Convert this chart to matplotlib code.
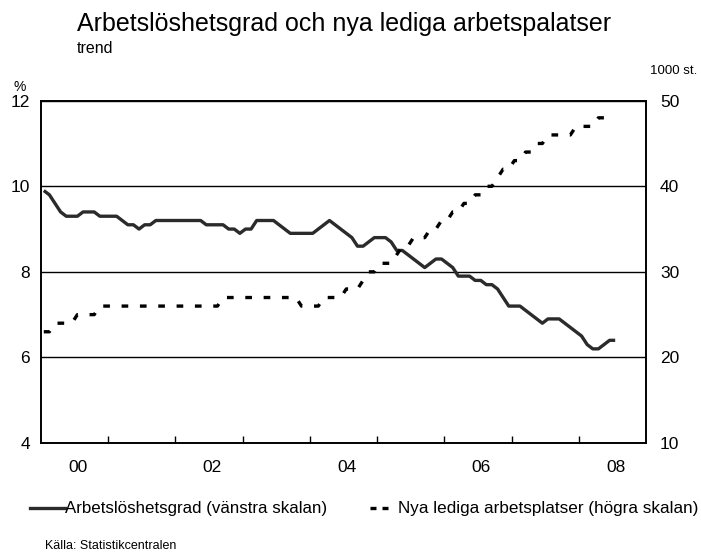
import numpy as np
import matplotlib
matplotlib.use('Agg')
import matplotlib.pyplot as plt
from matplotlib.lines import Line2D

plt.rcParams['font.family'] = ['Liberation Sans', 'DejaVu Sans']

# monthly trend series, Jan 2000 onwards
unemployment = [
    9.9, 9.8, 9.6, 9.4, 9.3, 9.3, 9.3, 9.4, 9.4, 9.4, 9.3, 9.3,   # 2000
    9.3, 9.3, 9.2, 9.1, 9.1, 9.0, 9.1, 9.1, 9.2, 9.2, 9.2, 9.2,   # 2001
    9.2, 9.2, 9.2, 9.2, 9.2, 9.1, 9.1, 9.1, 9.1, 9.0, 9.0, 8.9,   # 2002
    9.0, 9.0, 9.2, 9.2, 9.2, 9.2, 9.1, 9.0, 8.9, 8.9, 8.9, 8.9,   # 2003
    8.9, 9.0, 9.1, 9.2, 9.1, 9.0, 8.9, 8.8, 8.6, 8.6, 8.7, 8.8,   # 2004
    8.8, 8.8, 8.7, 8.5, 8.5, 8.4, 8.3, 8.2, 8.1, 8.2, 8.3, 8.3,   # 2005
    8.2, 8.1, 7.9, 7.9, 7.9, 7.8, 7.8, 7.7, 7.7, 7.6, 7.4, 7.2,   # 2006
    7.2, 7.2, 7.1, 7.0, 6.9, 6.8, 6.9, 6.9, 6.9, 6.8, 6.7, 6.6,   # 2007
    6.5, 6.3, 6.2, 6.2, 6.3, 6.4, 6.4,                            # 2008
]
vacancies = [
    23, 23, 24, 24, 24, 24, 25, 25, 25, 25, 26, 26,
    26, 26, 26, 26, 26, 26, 26, 26, 26, 26, 26, 26,
    26, 26, 26, 26, 26, 26, 26, 26, 27, 27, 27, 27,
    27, 27, 27, 27, 27, 27, 27, 27, 27, 27, 26, 26,
    26, 26, 27, 27, 27, 27, 28, 28, 28, 29, 30, 30,
    31, 31, 31, 32, 33, 33, 34, 34, 34, 35, 35, 36,
    36, 37, 37, 38, 38, 39, 39, 40, 40, 41, 42, 42,
    43, 43, 44, 44, 45, 45, 46, 46, 46, 46, 46, 47,
    47, 47, 47, 48, 48, 48, 48,
]
start_year = 2000
year_labels = ['00', '02', '04', '06', '08']
left_ticks = [4, 6, 8, 10, 12]
right_ticks = [10, 20, 30, 40, 50]

title = 'Arbetslöshetsgrad och nya lediga arbetspalatser'
subtitle = 'trend'
label_left = 'Arbetslöshetsgrad (vänstra skalan)'
label_right = 'Nya lediga arbetsplatser (högra skalan)'
source = 'Källa: Statistikcentralen'

W, H = 701, 553
months = np.arange(len(unemployment))
x = start_year + (months + 0.5) / 12

fig = plt.figure(figsize=(W / 100, H / 100), dpi=100)
ax = fig.add_axes([41 / W, 1 - 443 / H, (646 - 41) / W, (443 - 100.7) / H])
ax2 = ax.twinx()

ax.plot(x, unemployment, color='#2b2b2b', lw=2.4, solid_joinstyle='round',
        solid_capstyle='butt', zorder=3)
ax2.plot(x, vacancies, color='black', lw=2.4, dashes=(2.0, 3.5))

ax.set_xlim(start_year, start_year + 9)
ax.set_ylim(left_ticks[0], left_ticks[-1])
ax.set_yticks(left_ticks)
ax2.set_ylim(right_ticks[0], right_ticks[-1])
ax2.set_yticks(right_ticks)

ax.set_xticks(np.arange(start_year + 1, start_year + 9))
ax.set_xticklabels([])
ax.set_xticks([start_year + 0.55 + 2 * i for i in range(len(year_labels))], minor=True)
ax.set_xticklabels(year_labels, minor=True)
ax.tick_params(axis='x', which='major', direction='in', length=5, width=1, color='black')
ax.tick_params(axis='x', which='minor', length=0, pad=12, labelsize=12.5)
ax.tick_params(axis='y', length=0, pad=8, labelsize=12.5)
ax2.tick_params(axis='y', length=0, pad=10, labelsize=12.5)

ax.yaxis.grid(True, color='black', lw=1)
ax.set_axisbelow(True)
for a in (ax, ax2):
    for sp in a.spines.values():
        sp.set_linewidth(1.2)
        sp.set_color('black')

fig.text(77 / W, 1 - 31 / H, title, fontsize=18, va='baseline')
fig.text(77 / W, 1 - 53 / H, subtitle, fontsize=11.5, va='baseline')
fig.text(13 / W, 1 - 91 / H, '%', fontsize=10, va='baseline')
fig.text(650 / W, 1 - 74 / H, '1000 st.', fontsize=9.5, va='baseline')

# legend drawn by hand
ly = 1 - 508 / H
fig.add_artist(Line2D([30 / W, 65 / W], [ly, ly], color='#2b2b2b', lw=2.4,
                      transform=fig.transFigure))
fig.add_artist(Line2D([370 / W, 388 / W], [ly, ly], color='black', lw=2.4,
                      dashes=(1.8, 1.8), transform=fig.transFigure))
fig.text(65 / W, ly, label_left, fontsize=12.2, va='center')
fig.text(398 / W, ly, label_right, fontsize=12.3, va='center')
fig.text(45 / W, 1 - 549 / H, source, fontsize=9, va='baseline')

fig.savefig('out.png', dpi=100)
